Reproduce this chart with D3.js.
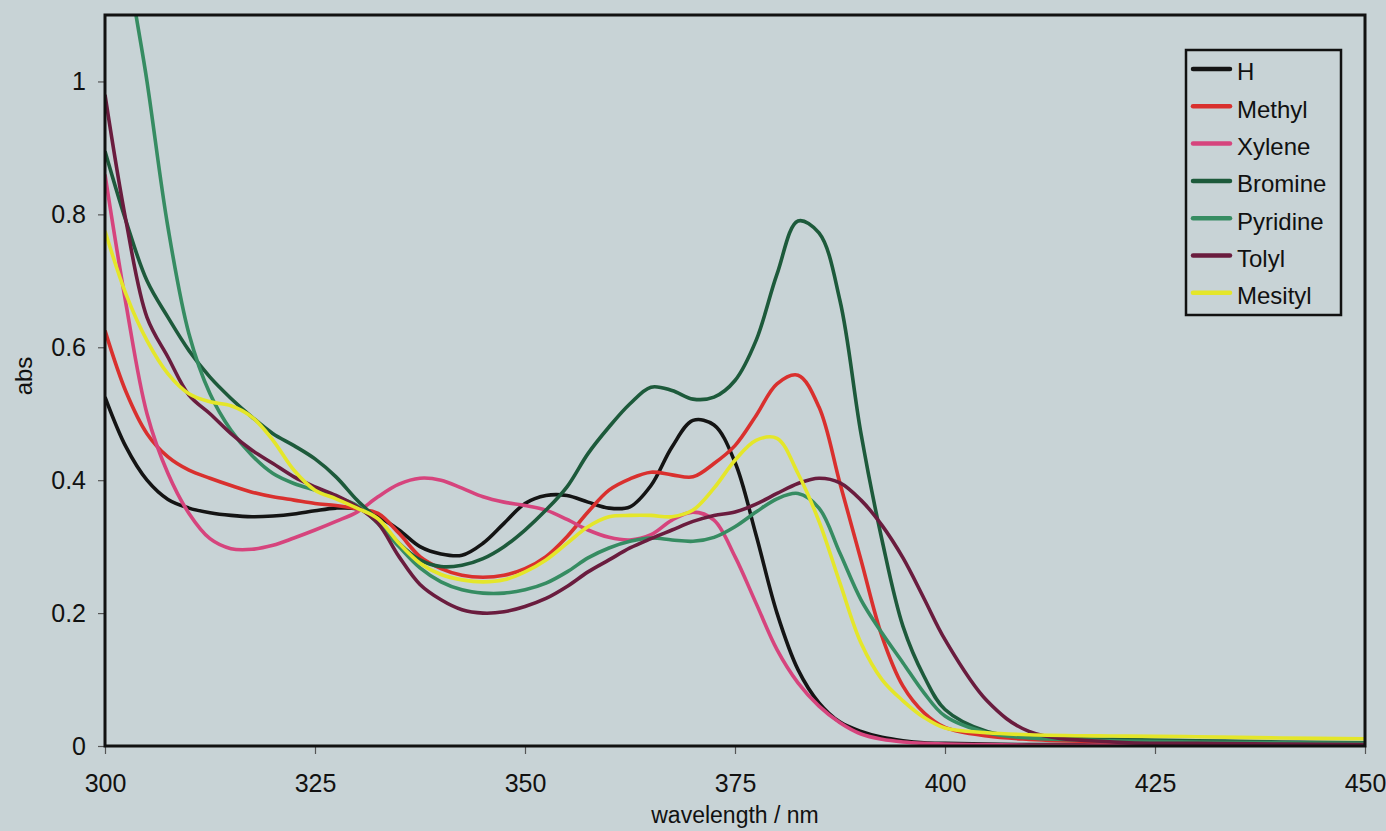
<!DOCTYPE html>
<html>
<head>
<meta charset="utf-8">
<script src="https://cdn.jsdelivr.net/npm/d3@7"></script>
<style>
  html, body { margin: 0; padding: 0; background: #c8d3d6; }
  svg { display: block; }
  text { font-family: "Liberation Sans", Arial, sans-serif; fill: #111; }
</style>
</head>
<body>
<svg id="chart" width="1386" height="831"></svg>
<script>
// Wavelength grid (nm) shared by every spectrum
const wavelength = [300, 302.5, 305, 307.5, 310, 312.5, 315, 317.5, 320, 322.5,
  325, 327.5, 330, 332.5, 335, 337.5, 340, 342.5, 345, 347.5,
  350, 352.5, 355, 357.5, 360, 362.5, 365, 367.5, 370, 372.5,
  375, 377.5, 380, 382.5, 385, 387.5, 390, 392.5, 395, 397.5,
  400, 405, 410, 420, 430, 440, 450];

// Absorbance of each compound at the wavelengths above
const absH = [0.525, 0.45, 0.40, 0.371, 0.358, 0.351, 0.347, 0.345, 0.346, 0.349,
  0.354, 0.358, 0.357, 0.345, 0.325, 0.30, 0.289, 0.287, 0.305, 0.335,
  0.365, 0.377, 0.377, 0.367, 0.358, 0.36, 0.392, 0.45, 0.49, 0.483,
  0.427, 0.318, 0.2, 0.115, 0.065, 0.036, 0.022, 0.013, 0.008, 0.005,
  0.004, 0.003, 0.002, 0.002, 0.001, 0.001, 0.001];
const absMethyl = [0.625, 0.533, 0.47, 0.435, 0.415, 0.403, 0.392, 0.382, 0.375, 0.37,
  0.365, 0.362, 0.357, 0.35, 0.32, 0.285, 0.267, 0.257, 0.254, 0.257,
  0.267, 0.285, 0.315, 0.352, 0.385, 0.402, 0.412, 0.408, 0.405, 0.425,
  0.452, 0.497, 0.545, 0.558, 0.51, 0.395, 0.28, 0.165, 0.09, 0.05,
  0.028, 0.015, 0.01, 0.006, 0.004, 0.003, 0.002];
const absXylene = [0.86, 0.665, 0.50, 0.41, 0.35, 0.312, 0.297, 0.296, 0.302, 0.313,
  0.325, 0.338, 0.352, 0.375, 0.394, 0.403, 0.40, 0.388, 0.375, 0.367,
  0.362, 0.355, 0.341, 0.325, 0.314, 0.31, 0.318, 0.34, 0.352, 0.34,
  0.285, 0.215, 0.145, 0.095, 0.06, 0.035, 0.018, 0.01, 0.006, 0.004,
  0.003, 0.002, 0.001, 0.001, 0, 0, 0];
const absBromine = [0.895, 0.79, 0.70, 0.645, 0.595, 0.555, 0.523, 0.495, 0.47, 0.452,
  0.432, 0.405, 0.37, 0.34, 0.305, 0.28, 0.27, 0.272, 0.282, 0.30,
  0.325, 0.355, 0.39, 0.44, 0.48, 0.515, 0.54, 0.535, 0.522, 0.525,
  0.55, 0.61, 0.71, 0.79, 0.772, 0.67, 0.47, 0.31, 0.18, 0.105,
  0.055, 0.022, 0.014, 0.01, 0.008, 0.006, 0.005];
const absPyridine = [1.55, 1.2, 1.0, 0.78, 0.62, 0.53, 0.475, 0.437, 0.41, 0.395,
  0.385, 0.375, 0.362, 0.335, 0.30, 0.268, 0.247, 0.235, 0.23, 0.23,
  0.235, 0.245, 0.262, 0.283, 0.298, 0.308, 0.313, 0.31, 0.308, 0.314,
  0.33, 0.352, 0.372, 0.38, 0.358, 0.29, 0.22, 0.17, 0.125, 0.08,
  0.045, 0.02, 0.012, 0.008, 0.006, 0.005, 0.004];
const absTolyl = [0.98, 0.79, 0.645, 0.585, 0.528, 0.5, 0.47, 0.445, 0.425, 0.405,
  0.39, 0.377, 0.36, 0.335, 0.285, 0.243, 0.22, 0.205, 0.2, 0.202,
  0.21, 0.222, 0.24, 0.262, 0.28, 0.298, 0.312, 0.325, 0.338, 0.347,
  0.352, 0.364, 0.38, 0.395, 0.403, 0.396, 0.37, 0.332, 0.283, 0.222,
  0.16, 0.068, 0.022, 0.006, 0.004, 0.003, 0.002];
const absMesityl = [0.775, 0.68, 0.61, 0.56, 0.53, 0.518, 0.512, 0.495, 0.46, 0.415,
  0.385, 0.372, 0.358, 0.342, 0.305, 0.275, 0.258, 0.25, 0.247, 0.25,
  0.262, 0.28, 0.305, 0.33, 0.345, 0.347, 0.347, 0.345, 0.355, 0.388,
  0.43, 0.46, 0.463, 0.41, 0.338, 0.245, 0.155, 0.1, 0.068, 0.043,
  0.027, 0.02, 0.017, 0.015, 0.014, 0.012, 0.011];

const seriesNames = ["H", "Methyl", "Xylene", "Bromine", "Pyridine", "Tolyl", "Mesityl"];
const seriesValues = [absH, absMethyl, absXylene, absBromine, absPyridine, absTolyl, absMesityl];
const seriesColors = ["#141414", "#d9302e", "#d6447d", "#1d5a3b", "#368c62", "#6a1c3e", "#e4e62a"];

const xTicks = [300, 325, 350, 375, 400, 425, 450];
const yTicks = [0, 0.2, 0.4, 0.6, 0.8, 1];

// Layout
const margin = { left: 105, right: 21, top: 15, bottom: 85 };
const W = 1386, H = 831;
const svg = d3.select("#chart");

const x = d3.scaleLinear().domain([300, 450]).range([margin.left, W - margin.right]);
const y = d3.scaleLinear().domain([0, 1.1]).range([H - margin.bottom, margin.top]);

svg.append("defs").append("clipPath").attr("id", "plotClip")
  .append("rect")
  .attr("x", x(300)).attr("y", y(1.1))
  .attr("width", x(450) - x(300)).attr("height", y(0) - y(1.1));

// Axes with outward ticks
const xAxis = d3.axisBottom(x).tickValues(xTicks).tickSize(8).tickPadding(19)
  .tickFormat(d3.format("d"));
const yAxis = d3.axisLeft(y).tickValues(yTicks).tickSize(7).tickPadding(12)
  .tickFormat(d => d3.format("~g")(d));

const gx = svg.append("g").attr("transform", `translate(0,${y(0)})`).call(xAxis);
const gy = svg.append("g").attr("transform", `translate(${x(300)},0)`).call(yAxis);
[gx, gy].forEach(g => {
  g.select(".domain").remove();
  g.selectAll(".tick line").attr("stroke", "#555").attr("stroke-width", 1.2);
  g.selectAll(".tick text").style("font-size", "25px").attr("fill", "#111");
});
gx.selectAll(".tick text").attr("dy", "0.75em");

// Spectra
const line = d3.line()
  .x((d, i) => x(wavelength[i]))
  .y(d => y(d))
  .curve(d3.curveCatmullRom.alpha(0.5));

const plot = svg.append("g").attr("clip-path", "url(#plotClip)");
seriesValues.forEach((vals, k) => {
  plot.append("path")
    .datum(vals)
    .attr("fill", "none")
    .attr("stroke", seriesColors[k])
    .attr("stroke-width", 3.6)
    .attr("stroke-linejoin", "round")
    .attr("d", line);
});

// Plot frame
svg.append("rect")
  .attr("x", x(300)).attr("y", y(1.1))
  .attr("width", x(450) - x(300)).attr("height", y(0) - y(1.1))
  .attr("fill", "none").attr("stroke", "#111").attr("stroke-width", 3);

// Axis titles
svg.append("text")
  .attr("x", (x(300) + x(450)) / 2).attr("y", 823)
  .attr("text-anchor", "middle")
  .style("font-size", "23px")
  .text("wavelength / nm");

svg.append("text")
  .attr("transform", `translate(32,${376}) rotate(-90)`)
  .attr("text-anchor", "middle")
  .style("font-size", "24px")
  .text("abs");

// Legend
const legend = svg.append("g");
legend.append("rect")
  .attr("x", 1186).attr("y", 50).attr("width", 155).attr("height", 265)
  .attr("fill", "none").attr("stroke", "#111").attr("stroke-width", 2.5);
seriesNames.forEach((name, k) => {
  const cy = 72 + k * 37.3;
  legend.append("line")
    .attr("x1", 1193).attr("x2", 1230)
    .attr("y1", cy - 3).attr("y2", cy - 3)
    .attr("stroke", seriesColors[k]).attr("stroke-width", 4.5)
    .attr("stroke-linecap", "round");
  legend.append("text")
    .attr("x", 1237).attr("y", cy)
    .attr("dy", "0.35em")
    .style("font-size", "24px")
    .text(name);
});
</script>
</body>
</html>
